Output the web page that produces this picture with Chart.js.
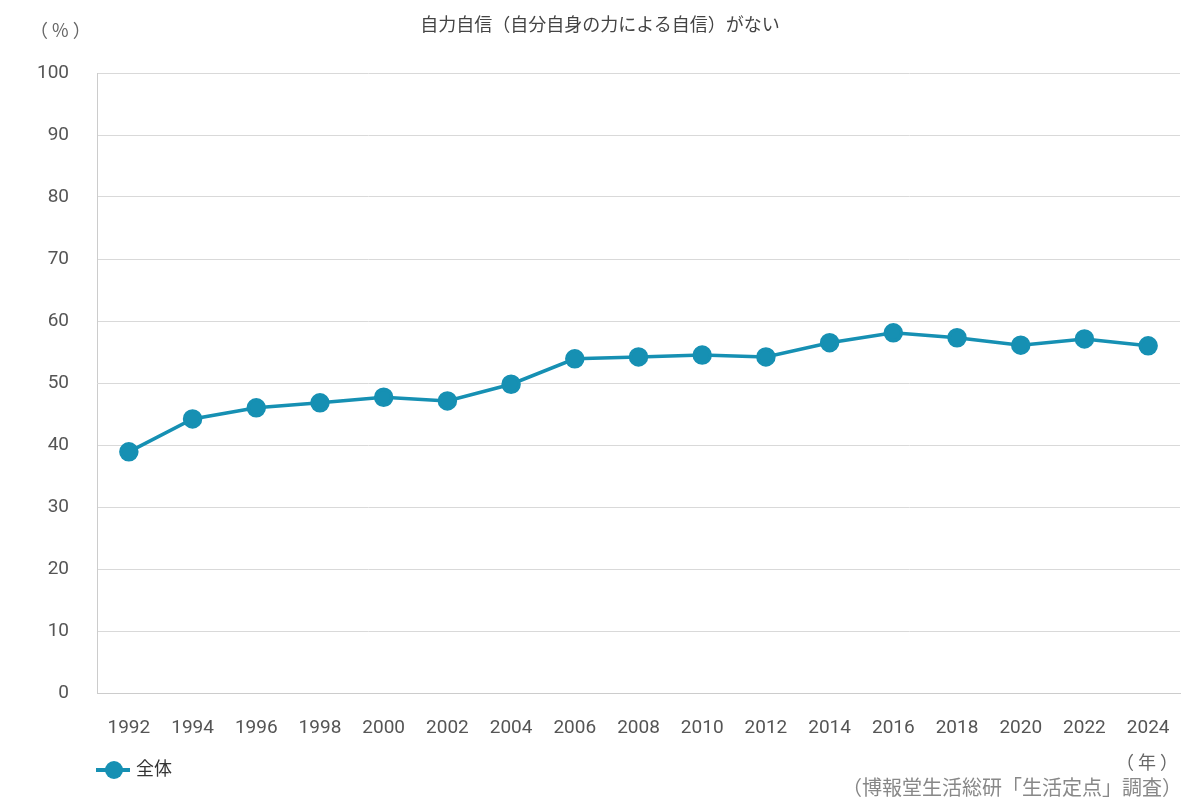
<!DOCTYPE html>
<html><head><meta charset="utf-8">
<script src="https://cdn.jsdelivr.net/npm/chart.js@4/dist/chart.umd.min.js"></script>
<style>
body{margin:0;width:1200px;height:800px;background:#fff;font-family:"Noto Sans CJK JP",sans-serif;position:relative;overflow:hidden}
#wrap{position:absolute;left:0;top:0;width:1200px;height:800px}
.t{position:absolute;color:#444;font-size:18px;white-space:nowrap}
</style></head><body>
<div id="wrap"><canvas id="c"></canvas></div>
<div class="t" style="left:0;width:1200px;text-align:center;top:10px">自力自信（自分自身の力による自信）がない</div>
<div class="t" style="left:30px;top:16px;color:#666">（ % ）</div>
<div class="t" style="left:96px;top:754px;color:#333"><span style="display:inline-block;width:34px;height:4px;background:#1690b3;vertical-align:middle;position:relative;margin-right:6px"><span style="position:absolute;left:9px;top:-7px;width:18px;height:18px;border-radius:50%;background:#1690b3"></span></span>全体</div>
<div class="t" style="right:22px;top:748px;color:#666">（ 年 ）</div>
<div class="t" style="right:18px;top:772px;color:#888;font-size:20px">（博報堂生活総研「生活定点」調査）</div>
<script>
const years = ["1992","1994","1996","1998","2000","2002","2004","2006","2008","2010","2012","2014","2016","2018","2020","2022","2024"];
const overall = [38.9,44.2,46.0,46.8,47.7,47.1,49.8,53.9,54.2,54.5,54.2,56.5,58.1,57.3,56.1,57.1,56.0];
const tickFont = { family: "Roboto, 'DejaVu Sans', sans-serif", size: 19 };

new Chart(document.getElementById("c"), {
  type: "line",
  data: {
    labels: years,
    datasets: [{
      label: "全体",
      data: overall,
      borderColor: "#1690b3",
      backgroundColor: "#1690b3",
      borderWidth: 3.5,
      pointRadius: 8,
      pointHoverRadius: 8,
      tension: 0,
    }],
  },
  options: {
    responsive: true,
    maintainAspectRatio: false,
    animation: false,
    layout: { padding: { top: 73, right: 20, bottom: 0, left: 0 } },
    plugins: { legend: { display: false }, tooltip: { enabled: false } },
    scales: {
      x: {
        offset: true,
        grid: { display: false },
        border: { color: "#ccc" },
        ticks: { color: "#555", font: tickFont, padding: 16, maxRotation: 0 },
        afterFit: (s) => { s.height = 107; },
      },
      y: {
        min: 0, max: 100,
        ticks: { stepSize: 10, color: "#555", font: tickFont, padding: 28 },
        grid: { color: "#d9d9d9", drawTicks: false },
        border: { color: "#ccc" },
        afterFit: (s) => { s.width = 97; },
      },
    },
  },
});
</script>
</body></html>
